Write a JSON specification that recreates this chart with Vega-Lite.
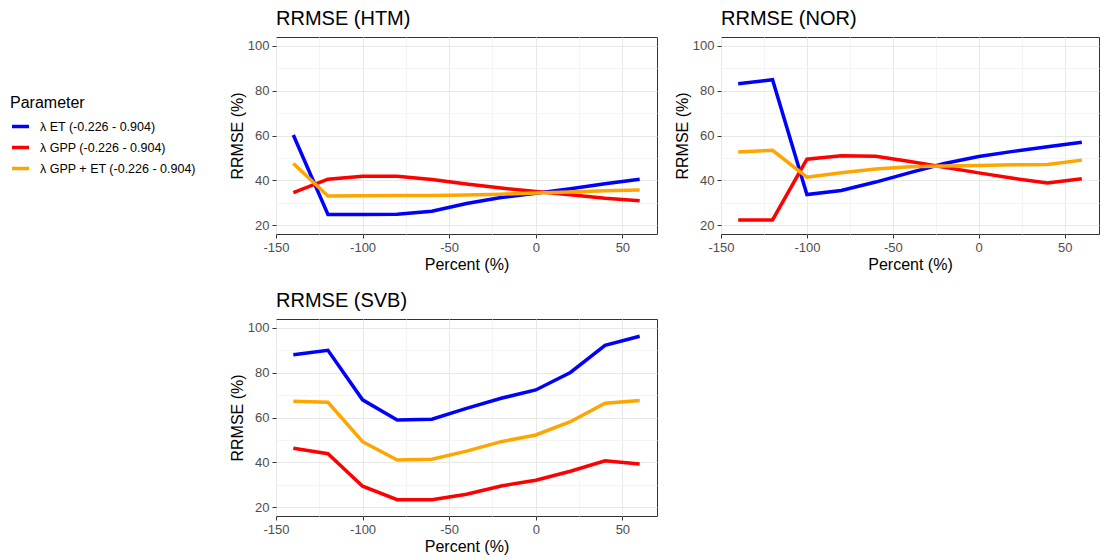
{
  "$schema": "https://vega.github.io/schema/vega-lite/v6.json",
  "padding": {"left": 10, "top": 8, "right": 0, "bottom": 0},
  "datasets": {
    "d": [
      {"site": "HTM", "param": "λ ET (-0.226 - 0.904)", "pct": -140, "rrmse": 60.2},
      {"site": "HTM", "param": "λ ET (-0.226 - 0.904)", "pct": -120, "rrmse": 24.7},
      {"site": "HTM", "param": "λ ET (-0.226 - 0.904)", "pct": -100, "rrmse": 24.7},
      {"site": "HTM", "param": "λ ET (-0.226 - 0.904)", "pct": -80, "rrmse": 24.8},
      {"site": "HTM", "param": "λ ET (-0.226 - 0.904)", "pct": -60, "rrmse": 26.2},
      {"site": "HTM", "param": "λ ET (-0.226 - 0.904)", "pct": -40, "rrmse": 29.6},
      {"site": "HTM", "param": "λ ET (-0.226 - 0.904)", "pct": -20, "rrmse": 32.3},
      {"site": "HTM", "param": "λ ET (-0.226 - 0.904)", "pct": 0, "rrmse": 34.2},
      {"site": "HTM", "param": "λ ET (-0.226 - 0.904)", "pct": 20, "rrmse": 36.2},
      {"site": "HTM", "param": "λ ET (-0.226 - 0.904)", "pct": 40, "rrmse": 38.4},
      {"site": "HTM", "param": "λ ET (-0.226 - 0.904)", "pct": 60, "rrmse": 40.5},
      {"site": "HTM", "param": "λ GPP (-0.226 - 0.904)", "pct": -140, "rrmse": 34.5},
      {"site": "HTM", "param": "λ GPP (-0.226 - 0.904)", "pct": -120, "rrmse": 40.5},
      {"site": "HTM", "param": "λ GPP (-0.226 - 0.904)", "pct": -100, "rrmse": 41.8},
      {"site": "HTM", "param": "λ GPP (-0.226 - 0.904)", "pct": -80, "rrmse": 41.8},
      {"site": "HTM", "param": "λ GPP (-0.226 - 0.904)", "pct": -60, "rrmse": 40.3},
      {"site": "HTM", "param": "λ GPP (-0.226 - 0.904)", "pct": -40, "rrmse": 38.3},
      {"site": "HTM", "param": "λ GPP (-0.226 - 0.904)", "pct": -20, "rrmse": 36.5},
      {"site": "HTM", "param": "λ GPP (-0.226 - 0.904)", "pct": 0, "rrmse": 35.0},
      {"site": "HTM", "param": "λ GPP (-0.226 - 0.904)", "pct": 20, "rrmse": 33.5},
      {"site": "HTM", "param": "λ GPP (-0.226 - 0.904)", "pct": 40, "rrmse": 32.0},
      {"site": "HTM", "param": "λ GPP (-0.226 - 0.904)", "pct": 60, "rrmse": 30.9},
      {"site": "HTM", "param": "λ GPP + ET (-0.226 - 0.904)", "pct": -140, "rrmse": 47.5},
      {"site": "HTM", "param": "λ GPP + ET (-0.226 - 0.904)", "pct": -120, "rrmse": 33.0},
      {"site": "HTM", "param": "λ GPP + ET (-0.226 - 0.904)", "pct": -100, "rrmse": 33.1},
      {"site": "HTM", "param": "λ GPP + ET (-0.226 - 0.904)", "pct": -80, "rrmse": 33.2},
      {"site": "HTM", "param": "λ GPP + ET (-0.226 - 0.904)", "pct": -60, "rrmse": 33.2},
      {"site": "HTM", "param": "λ GPP + ET (-0.226 - 0.904)", "pct": -40, "rrmse": 33.4},
      {"site": "HTM", "param": "λ GPP + ET (-0.226 - 0.904)", "pct": -20, "rrmse": 33.8},
      {"site": "HTM", "param": "λ GPP + ET (-0.226 - 0.904)", "pct": 0, "rrmse": 34.3},
      {"site": "HTM", "param": "λ GPP + ET (-0.226 - 0.904)", "pct": 20, "rrmse": 34.8},
      {"site": "HTM", "param": "λ GPP + ET (-0.226 - 0.904)", "pct": 40, "rrmse": 35.3},
      {"site": "HTM", "param": "λ GPP + ET (-0.226 - 0.904)", "pct": 60, "rrmse": 35.6},
      {"site": "NOR", "param": "λ ET (-0.226 - 0.904)", "pct": -140, "rrmse": 83.1},
      {"site": "NOR", "param": "λ ET (-0.226 - 0.904)", "pct": -120, "rrmse": 84.9},
      {"site": "NOR", "param": "λ ET (-0.226 - 0.904)", "pct": -100, "rrmse": 33.6},
      {"site": "NOR", "param": "λ ET (-0.226 - 0.904)", "pct": -80, "rrmse": 35.4},
      {"site": "NOR", "param": "λ ET (-0.226 - 0.904)", "pct": -60, "rrmse": 39.2},
      {"site": "NOR", "param": "λ ET (-0.226 - 0.904)", "pct": -40, "rrmse": 43.4},
      {"site": "NOR", "param": "λ ET (-0.226 - 0.904)", "pct": -20, "rrmse": 47.5},
      {"site": "NOR", "param": "λ ET (-0.226 - 0.904)", "pct": 0, "rrmse": 50.6},
      {"site": "NOR", "param": "λ ET (-0.226 - 0.904)", "pct": 20, "rrmse": 52.9},
      {"site": "NOR", "param": "λ ET (-0.226 - 0.904)", "pct": 40, "rrmse": 55.0},
      {"site": "NOR", "param": "λ ET (-0.226 - 0.904)", "pct": 60, "rrmse": 57.0},
      {"site": "NOR", "param": "λ GPP (-0.226 - 0.904)", "pct": -140, "rrmse": 22.3},
      {"site": "NOR", "param": "λ GPP (-0.226 - 0.904)", "pct": -120, "rrmse": 22.3},
      {"site": "NOR", "param": "λ GPP (-0.226 - 0.904)", "pct": -100, "rrmse": 49.4},
      {"site": "NOR", "param": "λ GPP (-0.226 - 0.904)", "pct": -80, "rrmse": 50.9},
      {"site": "NOR", "param": "λ GPP (-0.226 - 0.904)", "pct": -60, "rrmse": 50.7},
      {"site": "NOR", "param": "λ GPP (-0.226 - 0.904)", "pct": -40, "rrmse": 48.4},
      {"site": "NOR", "param": "λ GPP (-0.226 - 0.904)", "pct": -20, "rrmse": 45.8},
      {"site": "NOR", "param": "λ GPP (-0.226 - 0.904)", "pct": 0, "rrmse": 43.3},
      {"site": "NOR", "param": "λ GPP (-0.226 - 0.904)", "pct": 20, "rrmse": 40.9},
      {"site": "NOR", "param": "λ GPP (-0.226 - 0.904)", "pct": 40, "rrmse": 38.8},
      {"site": "NOR", "param": "λ GPP (-0.226 - 0.904)", "pct": 60, "rrmse": 40.7},
      {"site": "NOR", "param": "λ GPP + ET (-0.226 - 0.904)", "pct": -140, "rrmse": 52.6},
      {"site": "NOR", "param": "λ GPP + ET (-0.226 - 0.904)", "pct": -120, "rrmse": 53.4},
      {"site": "NOR", "param": "λ GPP + ET (-0.226 - 0.904)", "pct": -100, "rrmse": 41.4},
      {"site": "NOR", "param": "λ GPP + ET (-0.226 - 0.904)", "pct": -80, "rrmse": 43.4},
      {"site": "NOR", "param": "λ GPP + ET (-0.226 - 0.904)", "pct": -60, "rrmse": 45.0},
      {"site": "NOR", "param": "λ GPP + ET (-0.226 - 0.904)", "pct": -40, "rrmse": 46.0},
      {"site": "NOR", "param": "λ GPP + ET (-0.226 - 0.904)", "pct": -20, "rrmse": 46.4},
      {"site": "NOR", "param": "λ GPP + ET (-0.226 - 0.904)", "pct": 0, "rrmse": 46.6},
      {"site": "NOR", "param": "λ GPP + ET (-0.226 - 0.904)", "pct": 20, "rrmse": 46.9},
      {"site": "NOR", "param": "λ GPP + ET (-0.226 - 0.904)", "pct": 40, "rrmse": 47.1},
      {"site": "NOR", "param": "λ GPP + ET (-0.226 - 0.904)", "pct": 60, "rrmse": 49.0},
      {"site": "SVB", "param": "λ ET (-0.226 - 0.904)", "pct": -140, "rrmse": 88.0},
      {"site": "SVB", "param": "λ ET (-0.226 - 0.904)", "pct": -120, "rrmse": 90.0},
      {"site": "SVB", "param": "λ ET (-0.226 - 0.904)", "pct": -100, "rrmse": 67.9},
      {"site": "SVB", "param": "λ ET (-0.226 - 0.904)", "pct": -80, "rrmse": 58.9},
      {"site": "SVB", "param": "λ ET (-0.226 - 0.904)", "pct": -60, "rrmse": 59.2},
      {"site": "SVB", "param": "λ ET (-0.226 - 0.904)", "pct": -40, "rrmse": 64.1},
      {"site": "SVB", "param": "λ ET (-0.226 - 0.904)", "pct": -20, "rrmse": 68.6},
      {"site": "SVB", "param": "λ ET (-0.226 - 0.904)", "pct": 0, "rrmse": 72.3},
      {"site": "SVB", "param": "λ ET (-0.226 - 0.904)", "pct": 20, "rrmse": 80.1},
      {"site": "SVB", "param": "λ ET (-0.226 - 0.904)", "pct": 40, "rrmse": 92.2},
      {"site": "SVB", "param": "λ ET (-0.226 - 0.904)", "pct": 60, "rrmse": 96.3},
      {"site": "SVB", "param": "λ GPP (-0.226 - 0.904)", "pct": -140, "rrmse": 46.3},
      {"site": "SVB", "param": "λ GPP (-0.226 - 0.904)", "pct": -120, "rrmse": 43.8},
      {"site": "SVB", "param": "λ GPP (-0.226 - 0.904)", "pct": -100, "rrmse": 29.3},
      {"site": "SVB", "param": "λ GPP (-0.226 - 0.904)", "pct": -80, "rrmse": 23.3},
      {"site": "SVB", "param": "λ GPP (-0.226 - 0.904)", "pct": -60, "rrmse": 23.3},
      {"site": "SVB", "param": "λ GPP (-0.226 - 0.904)", "pct": -40, "rrmse": 25.7},
      {"site": "SVB", "param": "λ GPP (-0.226 - 0.904)", "pct": -20, "rrmse": 29.4},
      {"site": "SVB", "param": "λ GPP (-0.226 - 0.904)", "pct": 0, "rrmse": 32.0},
      {"site": "SVB", "param": "λ GPP (-0.226 - 0.904)", "pct": 20, "rrmse": 36.0},
      {"site": "SVB", "param": "λ GPP (-0.226 - 0.904)", "pct": 40, "rrmse": 40.7},
      {"site": "SVB", "param": "λ GPP (-0.226 - 0.904)", "pct": 60, "rrmse": 39.2},
      {"site": "SVB", "param": "λ GPP + ET (-0.226 - 0.904)", "pct": -140, "rrmse": 67.3},
      {"site": "SVB", "param": "λ GPP + ET (-0.226 - 0.904)", "pct": -120, "rrmse": 66.8},
      {"site": "SVB", "param": "λ GPP + ET (-0.226 - 0.904)", "pct": -100, "rrmse": 49.2},
      {"site": "SVB", "param": "λ GPP + ET (-0.226 - 0.904)", "pct": -80, "rrmse": 41.0},
      {"site": "SVB", "param": "λ GPP + ET (-0.226 - 0.904)", "pct": -60, "rrmse": 41.4},
      {"site": "SVB", "param": "λ GPP + ET (-0.226 - 0.904)", "pct": -40, "rrmse": 45.0},
      {"site": "SVB", "param": "λ GPP + ET (-0.226 - 0.904)", "pct": -20, "rrmse": 49.2},
      {"site": "SVB", "param": "λ GPP + ET (-0.226 - 0.904)", "pct": 0, "rrmse": 52.2},
      {"site": "SVB", "param": "λ GPP + ET (-0.226 - 0.904)", "pct": 20, "rrmse": 58.1},
      {"site": "SVB", "param": "λ GPP + ET (-0.226 - 0.904)", "pct": 40, "rrmse": 66.4},
      {"site": "SVB", "param": "λ GPP + ET (-0.226 - 0.904)", "pct": 60, "rrmse": 67.6}
    ]
  },
  "config": {
    "font": "Liberation Sans",
    "view": {"stroke": "#333333", "strokeWidth": 1},
    "axis": {
      "domain": false,
      "tickColor": "#333333",
      "tickSize": 4,
      "labelColor": "#4d4d4d",
      "labelFontSize": 13,
      "labelPadding": 3,
      "labelFlush": false,
      "titleFontSize": 16,
      "titleFontWeight": "normal",
      "titleColor": "#000000",
      "gridWidth": 1
    },
    "axisX": {"titlePadding": 2},
    "axisY": {"titlePadding": 2},
    "title": {"anchor": "start", "frame": "group", "fontSize": 20, "fontWeight": "normal", "color": "#000000", "offset": 8},
    "legend": {
      "orient": "none",
      "legendX": -266,
      "legendY": 58,
      "titleFontSize": 16,
      "titleFontWeight": "normal",
      "titleColor": "#000000",
      "titlePadding": 5,
      "labelFontSize": 12.5,
      "labelColor": "#000000",
      "labelOffset": 9,
      "symbolType": "stroke",
      "symbolStrokeWidth": 3.5,
      "symbolSize": 289,
      "rowPadding": 3
    }
  },
  "spacing": 17,
  "vconcat": [
    {
      "spacing": 15,
      "hconcat": [
        {
          "title": "RRMSE (HTM)",
          "width": 381,
          "height": 197,
          "data": {"name": "d"},
          "transform": [{"filter": "datum.site === 'HTM'"}],
          "mark": {"type": "line", "strokeWidth": 3.5},
          "encoding": {
            "x": {"field": "pct", "type": "quantitative", "scale": {"domain": [-150, 70], "nice": false},
              "axis": {"title": "Percent (%)", "values": [-150, -125, -100, -75, -50, -25, 0, 25, 50],
                "labelExpr": "datum.value % 50 === 0 ? '' + datum.value : ''",
                "gridColor": {"condition": {"test": "datum.value % 50 !== 0", "value": "#f4f4f4"}, "value": "#e8e8e8"},
                "tickOpacity": {"condition": {"test": "datum.value % 50 !== 0", "value": 0}, "value": 1}}},
            "y": {"field": "rrmse", "type": "quantitative", "scale": {"domain": [16, 104], "nice": false},
              "axis": {"title": "RRMSE (%)", "values": [20, 30, 40, 50, 60, 70, 80, 90, 100],
                "labelExpr": "datum.value % 20 === 0 ? '' + datum.value : ''",
                "gridColor": {"condition": {"test": "datum.value % 20 !== 0", "value": "#f4f4f4"}, "value": "#e8e8e8"},
                "tickOpacity": {"condition": {"test": "datum.value % 20 !== 0", "value": 0}, "value": 1}}},
            "color": {"field": "param", "type": "nominal", "title": "Parameter",
              "scale": {"domain": ["λ ET (-0.226 - 0.904)", "λ GPP (-0.226 - 0.904)", "λ GPP + ET (-0.226 - 0.904)"], "range": ["#0000ff", "#ff0000", "#ffa500"]}}
          }
        },
        {
          "title": "RRMSE (NOR)",
          "width": 378,
          "height": 197,
          "data": {"name": "d"},
          "transform": [{"filter": "datum.site === 'NOR'"}],
          "mark": {"type": "line", "strokeWidth": 3.5},
          "encoding": {
            "x": {"field": "pct", "type": "quantitative", "scale": {"domain": [-150, 70], "nice": false},
              "axis": {"title": "Percent (%)", "values": [-150, -125, -100, -75, -50, -25, 0, 25, 50],
                "labelExpr": "datum.value % 50 === 0 ? '' + datum.value : ''",
                "gridColor": {"condition": {"test": "datum.value % 50 !== 0", "value": "#f4f4f4"}, "value": "#e8e8e8"},
                "tickOpacity": {"condition": {"test": "datum.value % 50 !== 0", "value": 0}, "value": 1}}},
            "y": {"field": "rrmse", "type": "quantitative", "scale": {"domain": [16, 104], "nice": false},
              "axis": {"title": "RRMSE (%)", "values": [20, 30, 40, 50, 60, 70, 80, 90, 100],
                "labelExpr": "datum.value % 20 === 0 ? '' + datum.value : ''",
                "gridColor": {"condition": {"test": "datum.value % 20 !== 0", "value": "#f4f4f4"}, "value": "#e8e8e8"},
                "tickOpacity": {"condition": {"test": "datum.value % 20 !== 0", "value": 0}, "value": 1}}},
            "color": {"field": "param", "type": "nominal", "title": "Parameter",
              "scale": {"domain": ["λ ET (-0.226 - 0.904)", "λ GPP (-0.226 - 0.904)", "λ GPP + ET (-0.226 - 0.904)"], "range": ["#0000ff", "#ff0000", "#ffa500"]}}
          }
        }
      ]
    },
    {
      "title": "RRMSE (SVB)",
      "width": 381,
      "height": 197,
      "data": {"name": "d"},
      "transform": [{"filter": "datum.site === 'SVB'"}],
      "mark": {"type": "line", "strokeWidth": 3.5},
      "encoding": {
        "x": {"field": "pct", "type": "quantitative", "scale": {"domain": [-150, 70], "nice": false},
          "axis": {"title": "Percent (%)", "values": [-150, -125, -100, -75, -50, -25, 0, 25, 50],
            "labelExpr": "datum.value % 50 === 0 ? '' + datum.value : ''",
            "gridColor": {"condition": {"test": "datum.value % 50 !== 0", "value": "#f4f4f4"}, "value": "#e8e8e8"},
            "tickOpacity": {"condition": {"test": "datum.value % 50 !== 0", "value": 0}, "value": 1}}},
        "y": {"field": "rrmse", "type": "quantitative", "scale": {"domain": [16, 104], "nice": false},
          "axis": {"title": "RRMSE (%)", "values": [20, 30, 40, 50, 60, 70, 80, 90, 100],
            "labelExpr": "datum.value % 20 === 0 ? '' + datum.value : ''",
            "gridColor": {"condition": {"test": "datum.value % 20 !== 0", "value": "#f4f4f4"}, "value": "#e8e8e8"},
            "tickOpacity": {"condition": {"test": "datum.value % 20 !== 0", "value": 0}, "value": 1}}},
        "color": {"field": "param", "type": "nominal", "title": "Parameter",
          "scale": {"domain": ["λ ET (-0.226 - 0.904)", "λ GPP (-0.226 - 0.904)", "λ GPP + ET (-0.226 - 0.904)"], "range": ["#0000ff", "#ff0000", "#ffa500"]}}
      }
    }
  ]
}
